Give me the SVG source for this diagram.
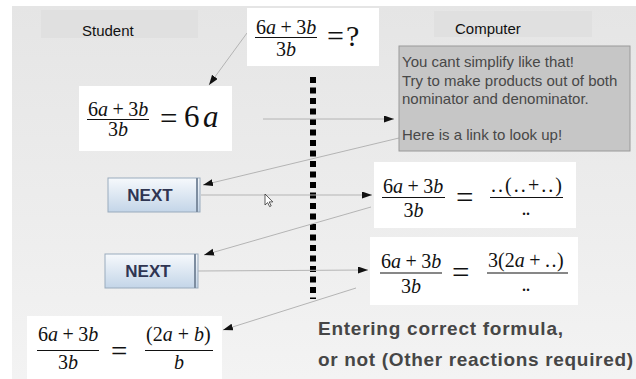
<svg xmlns="http://www.w3.org/2000/svg" width="636" height="379" viewBox="0 0 636 379">
<style>
.lbl{font-family:"Liberation Sans",Arial,sans-serif;font-size:15px;fill:#111}
.fb{font-family:"Liberation Sans",Arial,sans-serif;font-size:15px;fill:#484848}
.m{font-family:"Liberation Serif","Times New Roman","DejaVu Serif",serif;font-size:20px;fill:#111}
.i{font-style:italic}
.bar{stroke:#111;stroke-width:1.2}
.box{fill:#fff}
.btn{fill:url(#btng);stroke:#9aabbd;stroke-width:1}
.btxt{font-family:"Liberation Sans",Arial,sans-serif;font-weight:bold;font-size:17px;fill:#2f3552;text-anchor:middle}
.con{stroke:#b4b4b4;stroke-width:1;fill:none;marker-end:url(#ah)}
.big{font-family:"Liberation Sans",Arial,sans-serif;font-weight:bold;font-size:19px;fill:#464646}
</style>
<defs>
<linearGradient id="bg" x1="0" y1="0" x2="0" y2="1">
<stop offset="0" stop-color="#e5e5e5"/>
<stop offset="1" stop-color="#f3f3f3"/>
</linearGradient>
<linearGradient id="btng" x1="0" y1="0" x2="0" y2="1">
<stop offset="0" stop-color="#f6f9fc"/>
<stop offset="1" stop-color="#c3d5e8"/>
</linearGradient>
<marker id="ah" markerUnits="userSpaceOnUse" markerWidth="11" markerHeight="8" refX="10" refY="3.5" orient="auto">
<path d="M0,0 L10,3.5 L0,7 z" fill="#111"/>
</marker>
</defs>
<rect x="0" y="0" width="636" height="379" fill="#fff"/>
<rect x="12" y="6" width="624" height="373" fill="url(#bg)"/>

<g id="student-label">
<rect x="41" y="10" width="157" height="28" fill="#e0e0e0"/>
<text class="lbl" x="82" y="36">Student</text>
</g>
<g id="computer-label">
<rect x="434" y="11" width="158" height="26" fill="#e0e0e0"/>
<text class="lbl" x="455" y="34">Computer</text>
</g>

<g id="divider">
<line x1="313" y1="77" x2="313" y2="299" stroke="#000" stroke-width="6" stroke-dasharray="6 4.5"/>
</g>

<g id="connectors">
<line class="con" x1="247" y1="33" x2="209" y2="85"/>
<line class="con" x1="263" y1="119" x2="394" y2="119"/>
<line class="con" x1="399" y1="138" x2="203" y2="185"/>
<line class="con" x1="201" y1="195" x2="372" y2="195"/>
<line class="con" x1="371" y1="207" x2="204" y2="255"/>
<line class="con" x1="198" y1="271" x2="368" y2="270"/>
<line class="con" x1="356" y1="288" x2="223" y2="330"/>
</g>

<g id="question">
<rect class="box" x="247" y="8" width="132" height="58"/>
<text class="m" x="256" y="34">6<tspan class="i">a</tspan><tspan dx="4.5">+</tspan><tspan dx="4.5">3</tspan><tspan class="i">b</tspan></text>
<line class="bar" x1="255" y1="37.5" x2="317" y2="37.5"/>
<text class="m" x="286" y="56" text-anchor="middle">3<tspan class="i">b</tspan></text>
<text class="m" x="327" y="46" style="font-size:30px">=<tspan x="346">?</tspan></text>
</g>

<g id="student-answer">
<rect class="box" x="79" y="86" width="153" height="65"/>
<text class="m" x="88" y="116">6<tspan class="i">a</tspan><tspan dx="4.5">+</tspan><tspan dx="4.5">3</tspan><tspan class="i">b</tspan></text>
<line class="bar" x1="87" y1="119.5" x2="149" y2="119.5"/>
<text class="m" x="118" y="136" text-anchor="middle">3<tspan class="i">b</tspan></text>
<text class="m" x="160" y="129" style="font-size:31px">=</text>
<text class="m" x="184" y="127" style="font-size:31px">6<tspan class="i" x="203">a</tspan></text>
</g>

<g id="feedback">
<rect x="399" y="46" width="231" height="105" fill="#c6c6c6" stroke="#9a9a9a" stroke-width="1"/>
<text class="fb" x="402" y="67">You cant simplify like that!</text>
<text class="fb" x="402" y="86">Try to make products out of both</text>
<text class="fb" x="402" y="104">nominator and denominator.</text>
<text class="fb" x="402" y="140">Here is a link to look up!</text>
</g>

<g id="next1">
<rect class="btn" x="108" y="178" width="92" height="34"/>
<line x1="197" y1="178" x2="197" y2="212" stroke="#7d8da0" stroke-width="2"/>
<text class="btxt" x="150" y="201">NEXT</text>
</g>

<g id="hint1">
<rect class="box" x="374" y="162" width="202" height="66"/>
<text class="m" x="383" y="193">6<tspan class="i">a</tspan><tspan dx="4.5">+</tspan><tspan dx="4.5">3</tspan><tspan class="i">b</tspan></text>
<line class="bar" x1="382" y1="197.5" x2="445" y2="197.5"/>
<text class="m" x="413.5" y="217" text-anchor="middle">3<tspan class="i">b</tspan></text>
<text class="m" x="456" y="208" style="font-size:31px">=</text>
<text class="m" x="491" y="192" textLength="71" lengthAdjust="spacing">..(..+..)</text>
<line class="bar" x1="490" y1="197.5" x2="563" y2="197.5"/>
<text class="m" x="526" y="215" text-anchor="middle" textLength="9" lengthAdjust="spacing">..</text>
</g>

<g id="next2">
<rect class="btn" x="105" y="254" width="93" height="34"/>
<line x1="195" y1="254" x2="195" y2="288" stroke="#7d8da0" stroke-width="2"/>
<text class="btxt" x="148" y="277">NEXT</text>
</g>

<g id="hint2">
<rect class="box" x="370" y="237" width="208" height="68"/>
<text class="m" x="381" y="268">6<tspan class="i">a</tspan><tspan dx="4.5">+</tspan><tspan dx="4.5">3</tspan><tspan class="i">b</tspan></text>
<line class="bar" x1="380" y1="273" x2="442" y2="273"/>
<text class="m" x="411" y="293" text-anchor="middle">3<tspan class="i">b</tspan></text>
<text class="m" x="452" y="283" style="font-size:31px">=</text>
<text class="m" x="488" y="267">3(2<tspan class="i">a</tspan><tspan dx="4.5">+</tspan><tspan dx="4.5">.</tspan><tspan dx="1.5">.</tspan><tspan dx="0.5">)</tspan></text>
<line class="bar" x1="487" y1="273" x2="568" y2="273"/>
<text class="m" x="526" y="291" text-anchor="middle" textLength="9" lengthAdjust="spacing">..</text>
</g>

<g id="student-final">
<rect class="box" x="27" y="316" width="195" height="63"/>
<text class="m" x="38" y="341">6<tspan class="i">a</tspan><tspan dx="4.5">+</tspan><tspan dx="4.5">3</tspan><tspan class="i">b</tspan></text>
<line class="bar" x1="37" y1="350.5" x2="99" y2="350.5"/>
<text class="m" x="68" y="369" text-anchor="middle">3<tspan class="i">b</tspan></text>
<text class="m" x="111" y="361" style="font-size:29px">=</text>
<text class="m" x="146" y="341">(2<tspan class="i">a</tspan><tspan dx="5">+</tspan><tspan class="i" dx="5">b</tspan>)</text>
<line class="bar" x1="145" y1="350.5" x2="213" y2="350.5"/>
<text class="m i" x="179" y="369" text-anchor="middle">b</text>
</g>

<g id="note">
<text class="big" x="318" y="335" textLength="245" lengthAdjust="spacing">Entering correct formula,</text>
<text class="big" x="318" y="366" textLength="315" lengthAdjust="spacing">or not (Other reactions required)</text>
</g>

<path d="M265,194 L265,205 L267.6,202.6 L269.6,206.6 L271.2,205.8 L269.2,201.9 L272.8,201.9 Z" fill="#fff" stroke="#333" stroke-width="0.8"/>
</svg>
